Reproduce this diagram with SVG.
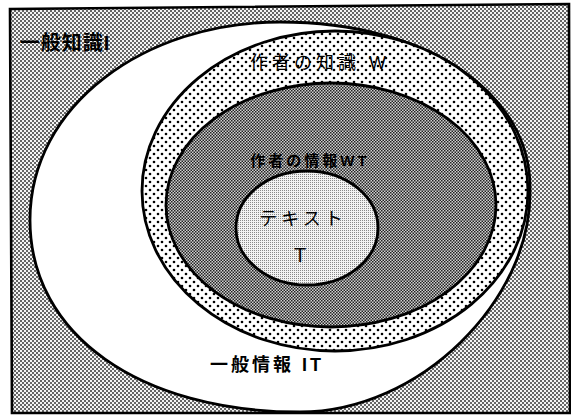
<svg xmlns="http://www.w3.org/2000/svg" width="571" height="416" viewBox="0 0 571 416">
<style>
.outline{stroke:#000;stroke-width:2.8;}
.jp{font-family:'Liberation Sans','Noto Sans CJK JP',sans-serif;fill:#000;text-anchor:middle;}
.b{font-weight:bold;}
</style>
<defs>
<pattern id="bgPat" width="4" height="4" patternUnits="userSpaceOnUse">
<rect width="4" height="4" fill="#f4f4f4"/>
<rect width="2" height="2" fill="#666"/>
<rect x="2" y="2" width="2" height="2" fill="#666"/>
</pattern>
<pattern id="darkPat" width="3" height="3" patternUnits="userSpaceOnUse">
<rect width="3" height="3" fill="#d0d0d0"/>
<rect width="1.5" height="1.5" fill="#222"/>
<rect x="1.5" y="1.5" width="1.5" height="1.5" fill="#222"/>
</pattern>
<pattern id="dotPat" width="8" height="8" patternUnits="userSpaceOnUse">
<rect width="8" height="8" fill="#fff"/>
<circle cx="2" cy="2" r="1.3" fill="#000"/>
<circle cx="6" cy="6" r="1.3" fill="#000"/>
</pattern>
<pattern id="lightPat" width="2" height="2" patternUnits="userSpaceOnUse">
<rect width="2" height="2" fill="#f2f2f2"/>
<rect width="1" height="1" fill="#888"/>
</pattern>
</defs>

<g id="frame">
<polygon points="10,9 569,4 570,413 12,413" fill="url(#bgPat)" stroke="#000" stroke-width="2.6"/>
</g>

<g id="general-info-IT">
<path class="outline" fill="#fff" d="M 30,220 C 30,105 145,22 280,22 C 430,22 532,95 530,190 C 532,300 420,412 300,412 C 140,412 30,335 30,220 Z"/>
</g>

<g id="author-knowledge-W">
<ellipse class="outline" cx="335" cy="191" rx="193" ry="160" fill="url(#dotPat)"/>
</g>

<g id="author-info-WT">
<ellipse class="outline" cx="331" cy="205" rx="165" ry="122" fill="url(#darkPat)"/>
</g>

<g id="text-T">
<ellipse class="outline" cx="307" cy="228" rx="71" ry="57" fill="url(#lightPat)"/>
</g>

<g id="connectors"></g>

<g id="labels">
<text class="jp b" x="65" y="50" font-size="20" letter-spacing="1">一般知識I</text>
<text class="jp" x="320" y="69" font-size="18" letter-spacing="4">作者の知識 W</text>
<text class="jp b" x="310" y="166" font-size="15" letter-spacing="3">作者の情報WT</text>
<text class="jp" x="303" y="225" font-size="18" letter-spacing="4">テキスト</text>
<text class="jp" x="300" y="262" font-size="20">T</text>
<text class="jp b" x="267" y="371" font-size="18" letter-spacing="3">一般情報 IT</text>
</g>
</svg>
